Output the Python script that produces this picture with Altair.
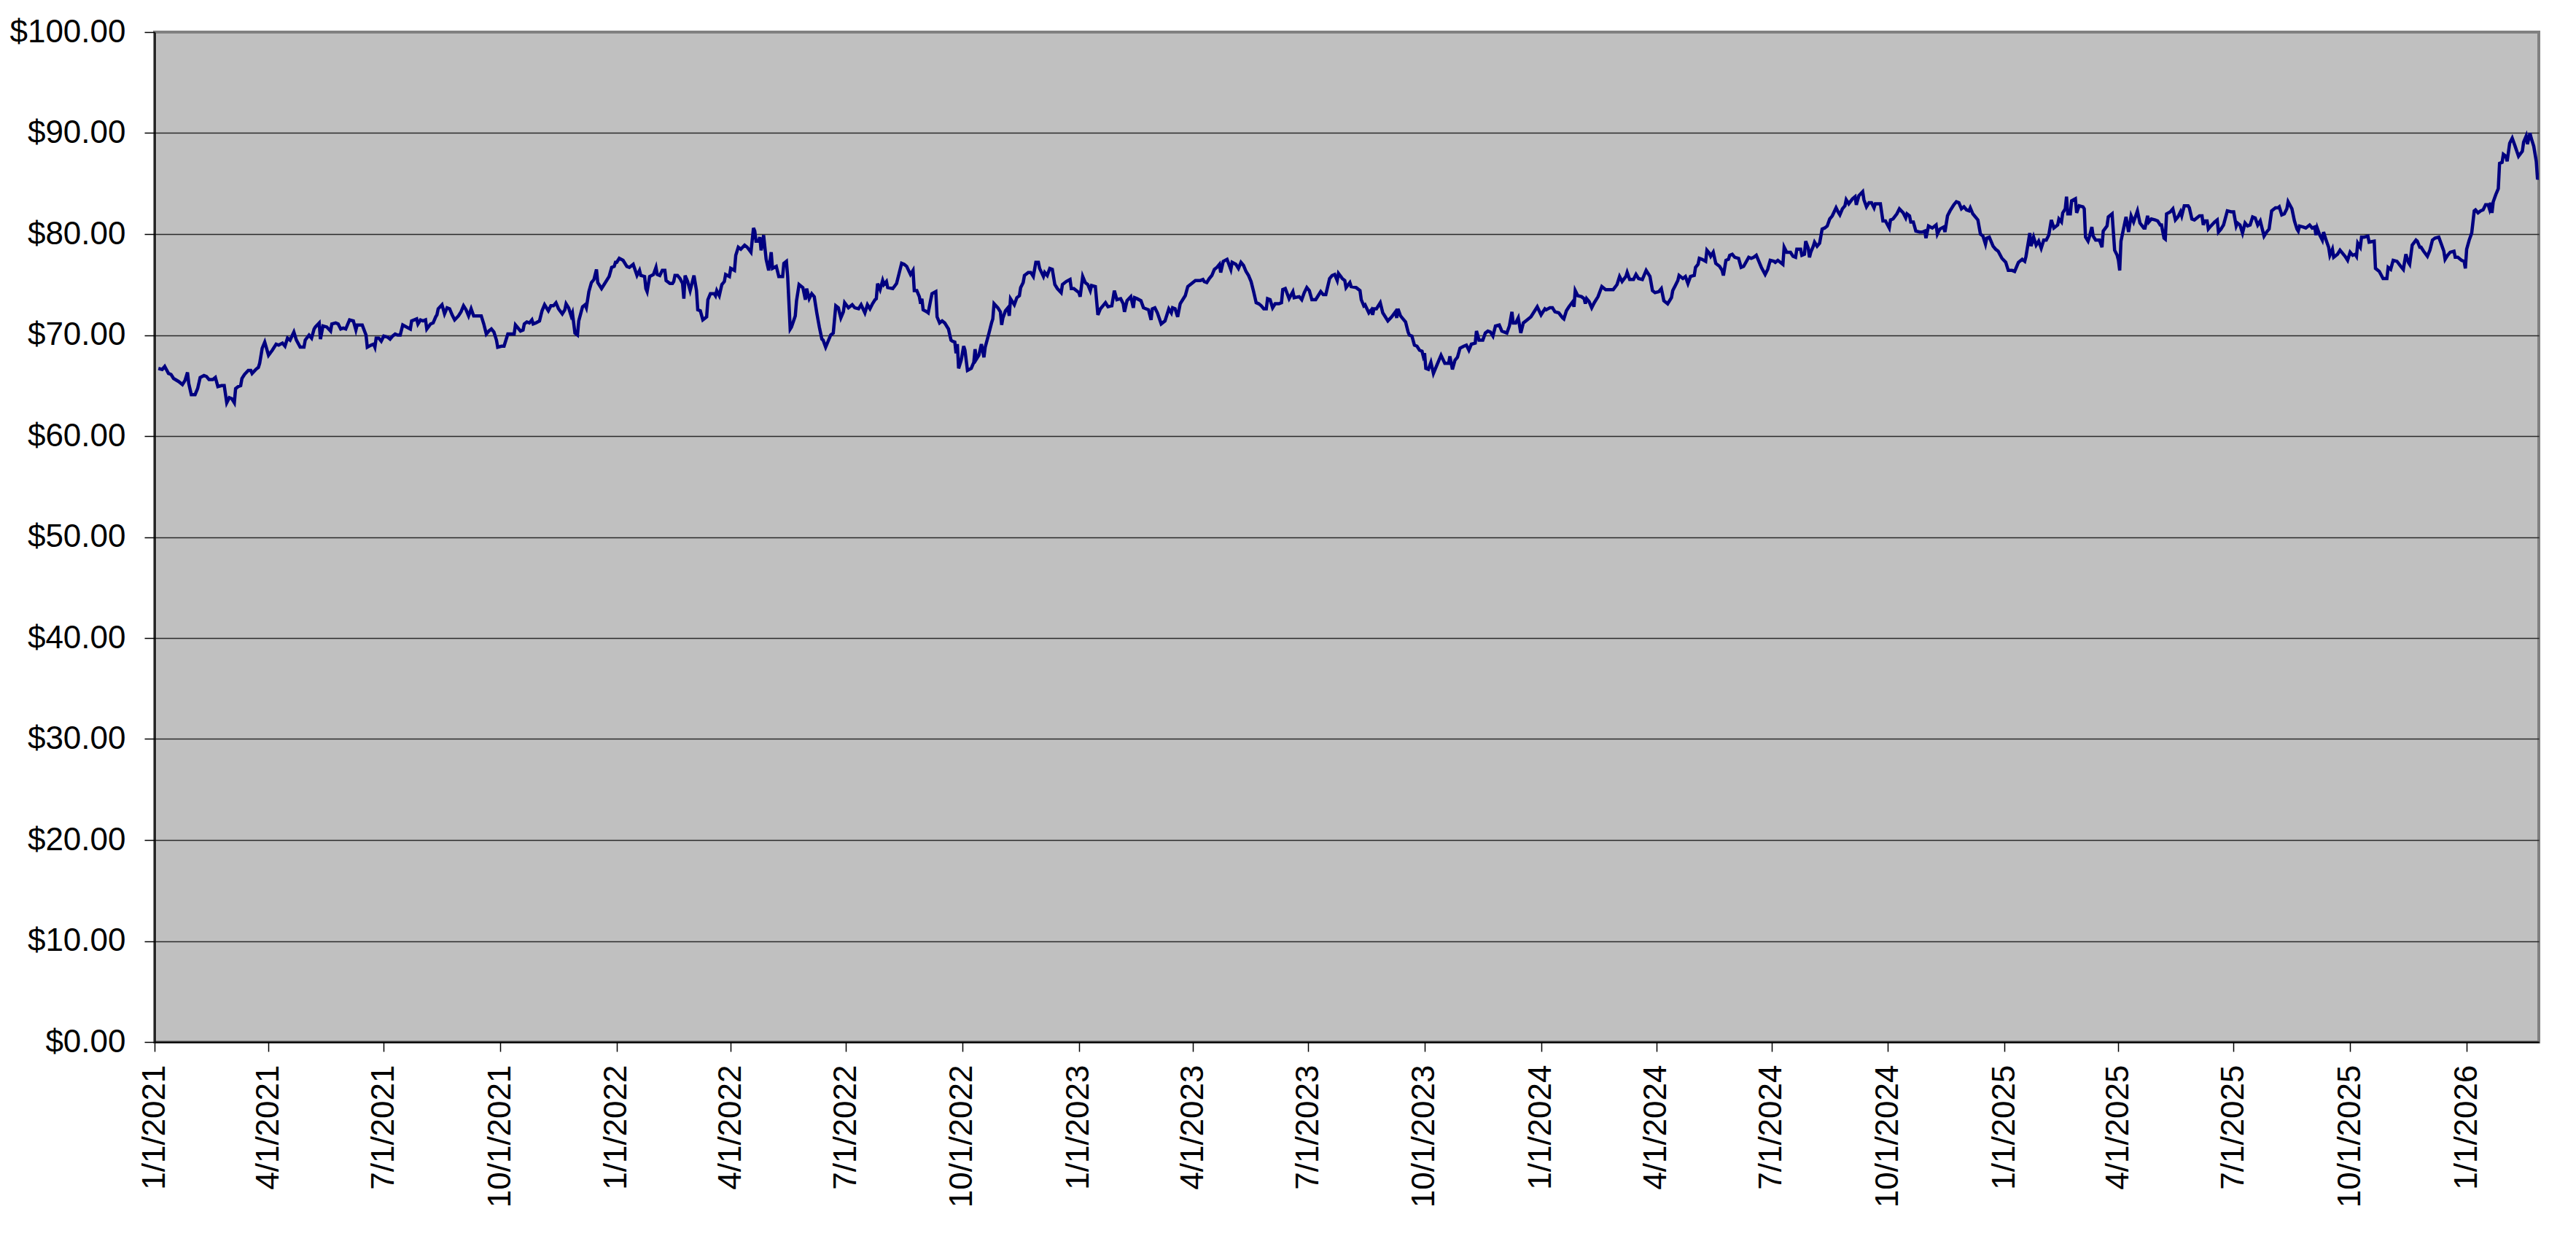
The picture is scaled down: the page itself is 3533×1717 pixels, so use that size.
import altair as alt
import pandas as pd

START = "2021-01-01"

# (days since 1/1/2021, price)
seg_2021 = [(3,66.7),(6,66.6),(8,66.9),(11,66.2),(13,66.1),(15,65.7),(19,65.4),(22,65.1),(24,65.5),(26,66.3),(27,65.2),(29,64.1),(32,64.1),(34,64.7),(36,65.8),(39,66.0),(41,65.9),(43,65.6),(46,65.6),(48,65.8),(50,64.9),(53,65.0),(55,65.0),(57,63.3),(59,63.8),(61,63.7),(63,63.3),(64,64.7),(66,64.9),(68,65.0),(69,65.7),(71,66.1),(74,66.5),(76,66.5),(77,66.2),(80,66.6),(82,66.8),(83,67.2),(85,68.7),(87,69.3),(90,68.0),(93,68.5),(96,69.1),(98,69.0),(101,69.2),(103,68.9),(105,69.7),(107,69.5),(110,70.3),(112,69.5),(115,68.8),(118,68.8),(119,69.5),(122,70.0),(124,69.7),(126,70.6),(127,70.8),(130,71.2),(131,69.6),(133,70.9),(136,70.8),(139,70.4),(140,71.1),(143,71.2),(145,71.1),(147,70.6),(149,70.7),(151,70.6),(154,71.5),(157,71.4),(159,70.5),(160,71.0),(164,71.0),(167,70.0),(168,68.8),(171,69.0),(173,69.1),(174,68.8),(175,69.7),(177,69.7),(179,69.4),(181,69.9),(184,69.8),(186,69.6),(188,69.9),(190,70.1),(192,70.0),(194,70.0),(196,71.0),(199,70.8),(202,70.6),(203,71.4),(207,71.6),(208,71.1),(210,71.5),(212,71.4),(214,71.5),(215,70.6),(218,71.1),(220,71.2),(222,71.8),(223,72.0),(224,72.6),(227,73.0),(229,72.1),(231,72.7),(233,72.6),(235,72.0),(237,71.5),(240,71.9),(242,72.3),(244,72.9),(246,72.5),(248,71.9),(250,72.6),(252,71.9),(255,71.9),(258,71.9),(260,71.1),(262,70.1),(264,70.4),(266,70.6),(268,70.3),(270,69.5),(271,68.8),(274,68.9),(276,68.9),(279,70.1),(281,70.1),(284,70.1),(285,71.0),(287,70.7),(289,70.4),(291,70.5),(292,71.1)]

seg_2022 = [(294,71.3),(296,71.2),(298,71.5),(299,71.1),(301,71.2),(304,71.4),(306,72.4),(308,73.0),(311,72.4),(313,72.9),(315,72.9),(317,73.2),(319,72.6),(322,72.1),(324,72.5),(325,73.1),(327,72.7),(329,71.9),(330,72.2),(332,70.2),(334,70.0),(335,71.4),(338,72.8),(340,73.0),(341,72.7),(343,74.3),(345,75.2),(347,75.5),(349,76.5),(350,75.2),(353,74.6),(355,75.0),(359,75.8),(361,76.7),(363,76.8),(364,77.2),(365,77.2),(367,77.6),(370,77.4),(373,76.8),(375,76.7),(378,77.0),(381,75.9),(383,76.4),(384,75.9),(387,75.8),(388,74.6),(389,74.3),(391,75.8),(394,76.0),(396,76.7),(397,76.0),(399,75.9),(401,76.4),(403,76.4),(404,75.4),(407,75.1),(409,75.1),(410,75.3),(411,75.9),(413,75.9),(415,75.6),(417,75.1),(418,73.6),(419,75.9),(421,75.3),(423,74.4),(426,75.9),(428,74.4),(429,72.5),(431,72.4),(433,71.5),(436,71.8),(437,73.5),(439,74.1),(442,74.1),(443,73.9),(444,74.4),(446,73.9),(448,75.0),(450,75.3),(451,76.0),(454,75.8),(455,76.6),(458,76.4),(459,77.9),(461,78.7),(463,78.5),(466,78.9),(468,78.7),(471,78.2),(473,80.6),(474,80.3),(475,79.3),(477,79.3),(478,79.7),(479,78.4),(480,78.9),(481,79.9),(483,77.5),(485,76.4),(487,78.2),(488,76.6),(491,76.8),(493,75.8),(496,75.8),(497,77.1),(499,77.3),(500,75.8),(502,70.6),(503,70.8),(506,71.9),(507,73.4),(509,75.0),(512,74.7),(514,73.5),(515,74.6),(517,73.6),(519,74.1),(521,73.8),(523,72.2),(525,70.8),(527,69.6),(528,69.5),(530,68.8),(534,70.0),(536,70.2),(538,72.9),(540,72.7),(542,71.7),(544,72.3),(545,73.2),(548,72.7),(551,73.0),(553,72.7),(556,72.6),(558,73.0),(561,72.2),(563,73.0),(565,72.6),(567,73.1),(569,73.5),(570,73.6),(571,75.1),(573,74.5),(575,75.4),(576,75.0),(578,75.3),(579,74.7),(583,74.6),(586,75.1),(588,76.1),(590,77.1),(592,77.0)]

seg_2023 = [(594,76.8),(597,76.0),(599,76.4),(600,74.4),(602,74.4),(604,73.8),(605,73.1),(606,73.6),(607,72.5),(610,72.3),(611,72.2),(613,73.5),(614,74.1),(617,74.3),(618,71.8),(620,71.2),(622,71.4),(624,71.2),(627,70.6),(629,69.5),(630,69.4),(632,69.3),(633,68.2),(634,69.1),(635,66.7),(637,67.5),(639,68.9),(640,68.5),(642,66.5),(645,66.7),(647,67.3),(648,68.6),(649,67.6),(651,68.0),(653,69.1),(655,67.8),(656,68.8),(659,70.2),(661,71.2),(662,71.6),(663,73.1),(666,72.7),(668,72.3),(669,71.0),(670,71.7),(672,72.4),(674,72.7),(675,71.9),(676,73.6),(679,73.0),(681,73.7),(683,73.9),(684,74.7),(686,75.2),(687,75.9),(690,76.2),(692,76.2),(694,75.8),(696,77.2),(698,77.2),(699,76.6),(702,75.8),(703,76.2),(705,75.9),(707,76.6),(709,76.5),(711,75.0),(713,74.6),(716,74.2),(717,75.0),(720,75.3),(723,75.5),(724,74.6),(726,74.6),(728,74.4),(730,74.2),(731,73.8),(733,75.8),(735,75.2),(737,75.0),(739,74.4),(740,74.9),(743,74.8),(745,72.0),(747,72.6),(749,72.9),(751,73.2),(753,72.8),(756,72.9),(758,74.4),(760,73.5),(763,73.6),(765,73.1),(766,72.3),(768,73.4),(771,73.8),(773,72.7),(774,73.7),(776,73.6),(779,73.4),(781,72.7),(783,72.6),(785,72.5),(787,71.5),(788,72.6),(790,72.7),(792,72.2),(795,71.1),(798,71.4),(801,72.6),(803,72.2),(804,72.7),(806,72.6),(808,71.8),(810,73.1),(812,73.5),(814,73.9),(816,74.8),(818,75.0),(820,75.2),(822,75.4),(826,75.4),(828,75.5),(829,75.3),(831,75.2),(833,75.6),(835,75.9),(837,76.5),(839,76.7),(841,77.0),(842,76.2),(844,77.3),(847,77.5),(850,76.5),(851,77.2),(854,77.0),(856,76.6),(858,77.2),(860,76.9),(862,76.3),(864,75.9),(866,75.3),(868,74.3),(870,73.2),(872,73.1),(874,72.9),(876,72.6),(878,72.6),(879,73.6),(881,73.5),(883,72.7),(885,73.1),(888,73.1),(890,73.2),(891,74.5)]

seg_2024a = [(893,74.6),(896,73.6),(899,74.3),(900,73.7),(904,73.8),(906,73.5),(908,74.2),(910,74.7),(912,74.4),(914,73.5),(917,73.5),(921,74.3),(923,74.0),(925,74.0),(928,75.6),(930,75.9),(932,76.0),(934,75.4),(935,76.1),(938,75.6),(940,75.4),(941,74.7),(944,75.2),(945,74.8),(949,74.7),(952,74.4),(953,73.5),(955,72.9),(956,73.0),(959,72.2),(961,72.5),(962,72.0),(963,72.6),(965,72.6),(968,73.2),(970,72.2),(972,71.8),(974,71.4),(977,71.8),(980,72.3),(981,71.7),(982,72.6),(984,71.9),(986,71.6),(988,71.3),(990,70.3),(991,70.0),(993,69.9),(995,69.0),(997,68.9),(999,68.5),(1001,68.4),(1002,67.9),(1003,68.2),(1004,66.7),(1006,66.6),(1008,67.3),(1010,66.2),(1013,67.1),(1016,68.0),(1019,67.2),(1022,67.2),(1023,67.9),(1025,66.6),(1027,67.5),(1029,67.8),(1031,68.7),(1034,68.9),(1036,69.0),(1038,68.5),(1040,69.1),(1043,69.2),(1044,70.4),(1046,69.5),(1049,69.5),(1051,70.2),(1053,70.4),(1055,70.3),(1057,69.9),(1059,70.9),(1062,71.0),(1064,70.4),(1066,70.3),(1068,70.2),(1070,70.9),(1072,72.3),(1073,71.2),(1075,71.2),(1077,71.7),(1079,70.2),(1081,71.2),(1084,71.5),(1087,71.8),(1089,72.2),(1092,72.8),(1095,72.0),(1098,72.6),(1099,72.5),(1102,72.7),(1104,72.7),(1106,72.3),(1109,72.2),(1112,71.7),(1113,71.6),(1115,72.4),(1117,72.8),(1120,73.3),(1121,72.8),(1122,74.4),(1124,73.9),(1127,73.8),(1129,73.6),(1130,73.1),(1131,73.6),(1133,73.3),(1135,72.7),(1137,73.2),(1140,73.8),(1143,74.8),(1146,74.5),(1149,74.5),(1152,74.5),(1155,75.0),(1157,75.8),(1159,75.3),(1162,75.8),(1163,76.2),(1165,75.5),(1168,75.5),(1170,76.0),(1172,75.6),(1175,75.5),(1178,76.4),(1181,75.8),(1183,74.4),(1185,74.2),(1188,74.3),(1190,74.6)]

seg_2024b = [(1192,73.4),(1195,73.1),(1198,73.7),(1199,74.4),(1201,74.9),(1203,75.4),(1204,75.9),(1207,75.6),(1209,75.8),(1211,75.1),(1213,75.8),(1216,75.9),(1217,76.7),(1219,77.0),(1220,77.6),(1222,77.5),(1225,77.3),(1226,78.4),(1228,78.1),(1229,77.8),(1231,78.2),(1233,77.1),(1236,76.8),(1238,76.4),(1239,75.9),(1241,77.4),(1243,77.5),(1244,77.9),(1246,78.0),(1248,77.7),(1251,77.6),(1253,76.7),(1255,76.8),(1259,77.7),(1261,77.6),(1263,77.7),(1265,77.9),(1267,77.3),(1269,76.7),(1272,76.0),(1274,76.5),(1276,77.4),(1279,77.3),(1280,77.2),(1282,77.4),(1284,77.2),(1286,77.0),(1287,78.7),(1289,78.2),(1292,78.2),(1294,77.8),(1296,77.7),(1297,78.5),(1300,78.5),(1301,77.9),(1303,78.0),(1304,79.3),(1306,78.6),(1307,77.7),(1308,78.2),(1310,78.8),(1311,79.2),(1313,78.8),(1315,79.1),(1317,80.5),(1319,80.6),(1321,80.8),(1323,81.5),(1325,81.8),(1328,82.6),(1330,82.1),(1331,81.9),(1333,82.5),(1335,82.8),(1336,83.4),(1338,83.0),(1341,83.5),(1343,83.7),(1344,82.9),(1346,83.8),(1349,84.2),(1350,83.4),(1352,82.7),(1354,83.1),(1356,83.1),(1358,82.6),(1359,83.0),(1363,83.0),(1365,81.3),(1367,81.3),(1370,80.6),(1371,81.4),(1373,81.5),(1376,82.0),(1378,82.5),(1381,82.1),(1383,81.6),(1384,82.0),(1386,81.8),(1387,81.2),(1389,81.2),(1391,80.3),(1394,80.2),(1396,80.2),(1398,80.3),(1399,79.6),(1401,80.8),(1404,80.6),(1407,80.9),(1408,80.0),(1410,80.5),(1413,80.7),(1414,80.2),(1416,81.8),(1418,82.3),(1421,82.9),(1423,83.2),(1425,83.1),(1427,82.5),(1429,82.7),(1431,82.4),(1433,82.3),(1434,82.6),(1436,82.0),(1440,81.4),(1442,80.0),(1444,79.8),(1446,79.0),(1447,79.6),(1449,79.7),(1452,78.8),(1454,78.5),(1456,78.3),(1459,77.6),(1462,77.2),(1464,76.4),(1467,76.4),(1469,76.3),(1472,77.2),(1475,77.5),(1477,77.3),(1478,77.8),(1481,80.1),(1482,78.8),(1484,79.7),(1486,78.9),(1488,79.3),(1490,78.6)]

seg_2025 = [(1492,79.4),(1494,79.4),(1496,79.9),(1498,81.4),(1500,80.6),(1503,80.9),(1504,81.5),(1506,81.2),(1507,82.1),(1509,82.5),(1510,83.7),(1511,82.0),(1513,82.0),(1514,83.3),(1517,83.5),(1518,82.1),(1520,82.8),(1523,82.7),(1524,82.5),(1525,79.7),(1527,79.3),(1528,79.7),(1530,80.7),(1531,79.8),(1533,79.4),(1536,79.4),(1538,78.7),(1539,80.3),(1542,80.8),(1543,81.7),(1546,82.0),(1548,78.4),(1550,77.9),(1551,77.4),(1552,76.4),(1553,79.3),(1555,80.5),(1557,81.7),(1559,80.2),(1561,81.8),(1563,81.2),(1566,82.3),(1568,81.1),(1571,80.6),(1572,80.6),(1574,81.8),(1575,81.2),(1577,81.5),(1580,81.4),(1582,81.3),(1584,80.9),(1585,80.9),(1587,79.6),(1588,79.5),(1589,82.0),(1592,82.2),(1594,82.5),(1596,81.4),(1598,81.7),(1600,82.2),(1601,81.8),(1603,82.8),(1606,82.8),(1607,82.6),(1609,81.5),(1611,81.4),(1615,81.8),(1617,81.8),(1618,80.9),(1619,81.3),(1621,81.3),(1622,80.5),(1624,80.8),(1627,81.2),(1629,81.4),(1630,80.2),(1632,80.5),(1634,80.9),(1637,82.3),(1640,82.2),(1642,82.2),(1644,80.8),(1645,81.1),(1647,80.9),(1649,80.1),(1651,81.1),(1653,80.8),(1655,80.9),(1657,81.7),(1659,81.6),(1661,80.9),(1663,81.3),(1665,80.3),(1666,79.8),(1668,80.2),(1670,80.5),(1672,82.3),(1675,82.6),(1677,82.6),(1678,82.7),(1680,81.9),(1682,82.0),(1684,82.5),(1685,83.2),(1688,82.5),(1690,81.3),(1692,80.5),(1693,80.3),(1694,80.8),(1697,80.7),(1699,80.6),(1702,80.9),(1704,80.6),(1706,80.7),(1707,79.9),(1708,80.6),(1710,79.9),(1712,79.4),(1713,80.2),(1715,79.4),(1717,78.7),(1718,77.9),(1720,78.5),(1721,77.7),(1724,78.0),(1726,78.4),(1730,77.8),(1732,77.4),(1734,78.2),(1736,77.9),(1738,78.0),(1739,77.8),(1740,79.1),(1742,78.7),(1743,79.7),(1745,79.7),(1748,79.8),(1749,79.2),(1753,79.3),(1754,76.6),(1757,76.3),(1760,75.6),(1763,75.6),(1764,76.7),(1766,76.5),(1768,77.4),(1771,77.3),(1774,76.8),(1776,76.5),(1778,78.0),(1780,77.2),(1781,77.0),(1783,78.9),(1786,79.4),(1787,79.3),(1789,78.7)]

seg_2026 = [(1790,78.7),(1792,78.3),(1795,77.8),(1797,78.4),(1799,79.4),(1801,79.6),(1804,79.7),(1806,79.0),(1808,78.3),(1809,77.5),(1811,77.9),(1813,78.2),(1816,78.3),(1817,77.7),(1819,77.7),(1822,77.4),(1824,77.3),(1825,76.6),(1826,78.5),(1828,79.4),(1830,80.1),(1832,82.3),(1833,82.4),(1835,82.1),(1837,82.3),(1839,82.4),(1841,82.9),(1843,82.9),(1844,82.5),(1845,83.1),(1846,82.1),(1847,83.2),(1849,83.9),(1851,84.5),(1852,87.0),(1854,87.1),(1855,87.9),(1857,87.7),(1858,87.2),(1860,89.0),(1862,89.5),(1864,88.8),(1867,87.7),(1870,88.2),(1871,89.1),(1873,89.7),(1874,88.9),(1876,90.0),(1877,89.5),(1879,88.7),(1881,87.2),(1882,85.4),(1883,85.8)]

y_ticks = [0, 10, 20, 30, 40, 50, 60, 70, 80, 90, 100]
tick_months = [(2021, 1), (2021, 4), (2021, 7), (2021, 10), (2022, 1), (2022, 4), (2022, 7), (2022, 10),
               (2023, 1), (2023, 4), (2023, 7), (2023, 10), (2024, 1), (2024, 4), (2024, 7), (2024, 10),
               (2025, 1), (2025, 4), (2025, 7), (2025, 10), (2026, 1)]

segments = [seg_2021, seg_2022, seg_2023, seg_2024a, seg_2024b, seg_2025, seg_2026]
start = pd.Timestamp(START)
rows = []
for seg in segments:
    for d, v in seg:
        rows.append({"date": (start + pd.Timedelta(days=d)).strftime("%Y-%m-%d"), "price": v})
df = pd.DataFrame(rows)

FONT = "Liberation Sans"

x_axis = alt.Axis(
    values=[alt.DateTime(year=y, month=m, date=1, utc=True) for y, m in tick_months],
    labelExpr="(utcmonth(datum.value)+1) + '/' + utcdate(datum.value) + '/' + utcyear(datum.value)",
    labelAngle=270,
    labelFont=FONT,
    labelFontSize=44,
    labelColor="#000000",
    labelPadding=18,
    labelOverlap=False,
    labelBound=False,
    labelFlush=False,
    labelLimit=0,
    tickSize=13,
    tickColor="#000000",
    tickWidth=1.5,
    domainColor="#000000",
    domainWidth=2,
    grid=False,
    title=None,
)

y_axis = alt.Axis(
    values=y_ticks,
    format="$.2f",
    labelFont=FONT,
    labelFontSize=44,
    labelColor="#000000",
    labelPadding=26,
    labelLimit=0,
    tickSize=14,
    tickColor="#000000",
    tickWidth=1.5,
    domainColor="#000000",
    domainWidth=2,
    grid=True,
    gridColor={"condition": {"test": "datum.value === 100", "value": "#808080"}, "value": "#2a2a2a"},
    gridWidth=1.6,
    title=None,
)

chart = (
    alt.Chart(df)
    .mark_line(color="#000080", strokeWidth=4.5, clip=True)
    .encode(
        x=alt.X(
            "date:T",
            scale=alt.Scale(
                type="utc",
                domain=[alt.DateTime(year=2021, month=1, date=1, utc=True),
                        alt.DateTime(year=2026, month=2, date=27, utc=True)],
                nice=False,
            ),
            axis=x_axis,
        ),
        y=alt.Y("price:Q", scale=alt.Scale(domain=[0, 100], nice=False), axis=y_axis),
    )
    .properties(
        width=3270,
        height=1385,
        autosize=alt.AutoSizeParams(type="none"),
        padding={"left": 204, "top": 36, "right": 30, "bottom": 250},
        background="#FFFFFF",
    )
    .configure_view(fill="#C0C0C0", stroke="#808080", strokeWidth=4)
)

chart.save("out.html", embed_options={"renderer": "svg", "actions": False})
